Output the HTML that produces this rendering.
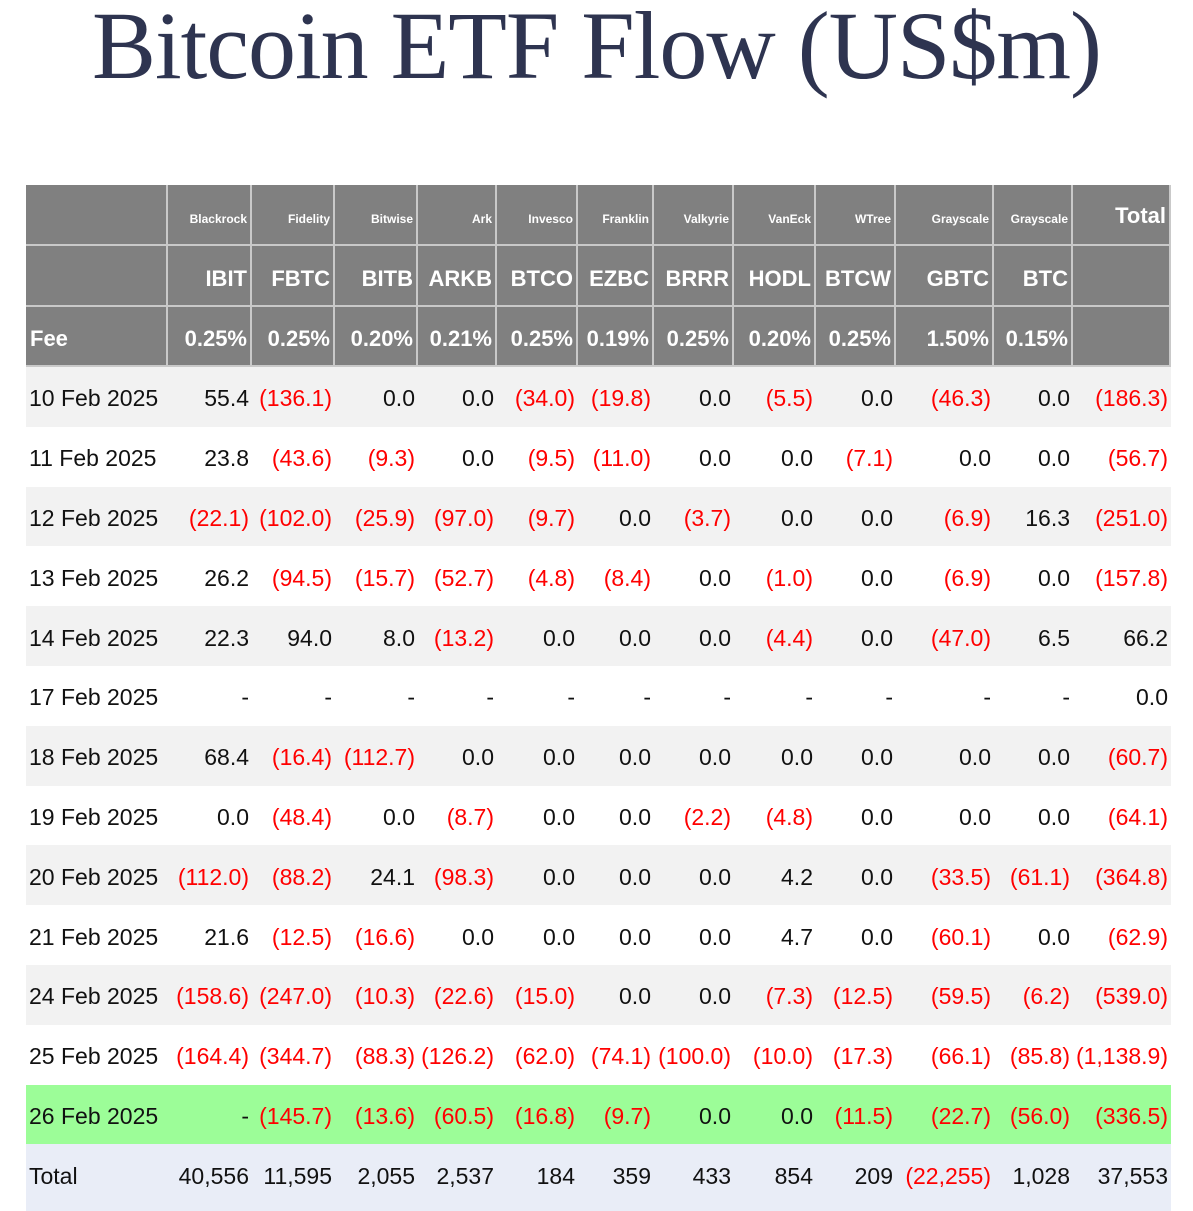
<!DOCTYPE html>
<html><head><meta charset="utf-8"><style>
body{margin:0;width:1193px;height:1211px;background:#fff;overflow:hidden;position:relative;font-family:"Liberation Sans",sans-serif}
#title{position:absolute;left:0;width:1193px;top:-10px;text-align:center;font-family:"Liberation Serif",serif;font-size:96px;color:#2e3450;white-space:nowrap;letter-spacing:-1px}
#tbl{position:absolute;left:26px;top:185px;width:1145px;border-right:2px solid #e5e2d8}
.row{position:absolute;left:0;height:60px}
.c{position:absolute;top:0;height:100%;box-sizing:border-box;text-align:right;padding-right:3px;padding-top:4px;white-space:nowrap;display:flex;align-items:center;justify-content:flex-end;font-size:23px;color:#111}
.h .c{color:#fff;font-weight:bold;border-right:2px solid #c9c9c9;border-bottom:2px solid #c9c9c9;padding-top:2px}
.neg{color:#f00!important}
</style></head><body>
<div id="title">Bitcoin ETF Flow (US$m)</div>
<div id="tbl"></div>
<script>
const issuers=["Blackrock","Fidelity","Bitwise","Ark","Invesco","Franklin","Valkyrie","VanEck","WTree","Grayscale","Grayscale"];
const tickers=["IBIT","FBTC","BITB","ARKB","BTCO","EZBC","BRRR","HODL","BTCW","GBTC","BTC"];
const fees=["0.25%","0.25%","0.20%","0.21%","0.25%","0.19%","0.25%","0.20%","0.25%","1.50%","0.15%"];
const dates=["10 Feb 2025","11 Feb 2025","12 Feb 2025","13 Feb 2025","14 Feb 2025","17 Feb 2025","18 Feb 2025","19 Feb 2025","20 Feb 2025","21 Feb 2025","24 Feb 2025","25 Feb 2025","26 Feb 2025"];
const flows=[
["55.4","(136.1)","0.0","0.0","(34.0)","(19.8)","0.0","(5.5)","0.0","(46.3)","0.0","(186.3)"],
["23.8","(43.6)","(9.3)","0.0","(9.5)","(11.0)","0.0","0.0","(7.1)","0.0","0.0","(56.7)"],
["(22.1)","(102.0)","(25.9)","(97.0)","(9.7)","0.0","(3.7)","0.0","0.0","(6.9)","16.3","(251.0)"],
["26.2","(94.5)","(15.7)","(52.7)","(4.8)","(8.4)","0.0","(1.0)","0.0","(6.9)","0.0","(157.8)"],
["22.3","94.0","8.0","(13.2)","0.0","0.0","0.0","(4.4)","0.0","(47.0)","6.5","66.2"],
["-","-","-","-","-","-","-","-","-","-","-","0.0"],
["68.4","(16.4)","(112.7)","0.0","0.0","0.0","0.0","0.0","0.0","0.0","0.0","(60.7)"],
["0.0","(48.4)","0.0","(8.7)","0.0","0.0","(2.2)","(4.8)","0.0","0.0","0.0","(64.1)"],
["(112.0)","(88.2)","24.1","(98.3)","0.0","0.0","0.0","4.2","0.0","(33.5)","(61.1)","(364.8)"],
["21.6","(12.5)","(16.6)","0.0","0.0","0.0","0.0","4.7","0.0","(60.1)","0.0","(62.9)"],
["(158.6)","(247.0)","(10.3)","(22.6)","(15.0)","0.0","0.0","(7.3)","(12.5)","(59.5)","(6.2)","(539.0)"],
["(164.4)","(344.7)","(88.3)","(126.2)","(62.0)","(74.1)","(100.0)","(10.0)","(17.3)","(66.1)","(85.8)","(1,138.9)"],
["-","(145.7)","(13.6)","(60.5)","(16.8)","(9.7)","0.0","0.0","(11.5)","(22.7)","(56.0)","(336.5)"]];
const totals=["40,556","11,595","2,055","2,537","184","359","433","854","209","(22,255)","1,028","37,553"];
const edges=[0,142,226,309,392,471,552,628,708,790,870,968,1047,1145];
const tbl=document.getElementById('tbl');
function mkRow(top,h,bg,cls){const r=document.createElement('div');r.className='row '+(cls||'');r.style.top=top+'px';r.style.height=h+'px';r.style.width='1145px';r.style.background=bg;tbl.appendChild(r);return r;}
function mkCell(r,i,txt,style){const c=document.createElement('div');c.className='c';c.style.left=edges[i]+'px';c.style.width=(edges[i+1]-edges[i])+'px';c.textContent=txt;if(txt.startsWith('('))c.classList.add('neg');Object.assign(c.style,style||{});r.appendChild(c);return c;}
const hdrs=[["",issuers,{fontSize:'12px',paddingTop:'8px'}],["",tickers,{fontSize:'22px',paddingTop:'6px'}],["Fee",fees,{fontSize:'22px',paddingTop:'6px'}]];
const hTops=[0,61,122],hH=[61,61,60];
hdrs.forEach((h,k)=>{
 const r=mkRow(hTops[k],hH[k],'#808080','h');
 
 
 const f=mkCell(r,0,h[0],Object.assign({justifyContent:'flex-start',paddingLeft:'4px'},h[2]));
 
 
 for(let i=0;i<11;i++){const c=mkCell(r,i+1,h[1][i],h[2]);
  
  }
 const t=mkCell(r,12,k==0?'Total':'',{fontSize:'22px',alignItems:k==0?'flex-start':'center',paddingTop:k==0?'18px':'0'});
 
 
});
const rh=59.8;
dates.forEach((d,j)=>{
 const bg=j==12?'#9cfd98':(j%2==0?'#f2f2f2':'#fff');
 const r=mkRow(182+j*rh,rh,bg);
 
 
 const dc=mkCell(r,0,d,{justifyContent:'flex-start',paddingLeft:'3px'});
 
 
 flows[j].forEach((v,i)=>{const c=mkCell(r,i+1,v);
  
  });
});
const tr=mkRow(182+13*rh,1211-185-182-13*rh,'#e9edf7');


const tl=mkCell(tr,0,'Total',{justifyContent:'flex-start',paddingLeft:'3px',height:rh+'px'});


totals.forEach((v,i)=>{const c=mkCell(tr,i+1,v,{height:rh+'px'});
 
 });
</script>
</body></html>
